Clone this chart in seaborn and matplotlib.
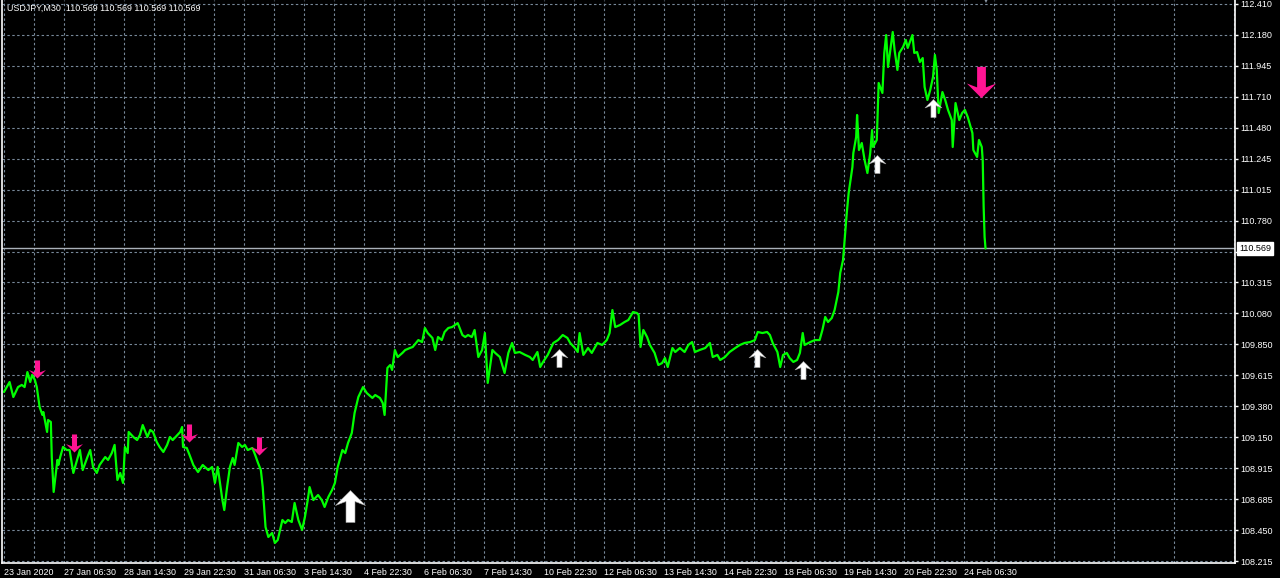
import numpy as np
import pandas as pd
import matplotlib
matplotlib.use("Agg")
import matplotlib.pyplot as plt
import seaborn as sns
from matplotlib.path import Path

# ---------------- data ----------------
symbol = "USDJPY,M30"
last_price = 110.569

bars = [0, 6, 10, 15, 19, 22, 25, 28, 30, 33, 35, 38, 41, 42, 46, 47, 50,
        51, 53, 57, 58, 60, 63, 67, 70, 74, 78, 81, 84, 89, 92, 95, 99, 102, 108, 111,
        115, 118, 121, 124, 127, 129, 132, 133, 138, 142, 145, 148, 153, 156, 159, 163,
        166, 170, 174, 177, 180, 185, 188, 190, 191, 195, 198, 202, 207,
        212, 218, 222, 225, 228, 233, 235, 238, 241, 244, 246, 250, 254, 257, 260, 265,
        268, 271, 274, 276, 279, 282, 286, 289, 292, 297, 300, 303, 307, 310, 314, 318,
        321, 324, 326, 330, 335, 339, 342, 346, 350, 353, 356, 361, 364, 367, 371, 374,
        378, 383, 387, 393, 396, 401, 404, 406, 409, 412,
        414, 417, 420, 425, 428, 433, 436, 442, 446, 449, 452, 457, 460, 463, 467, 470,
        474, 478, 481, 484, 489, 492, 495, 499, 502, 506, 510, 513, 516, 521, 524, 529,
        534, 538, 542, 545, 550, 556, 561, 564, 569, 572, 575, 580, 586, 591, 596, 601,
        604, 609, 612, 614, 618, 623, 627, 633, 638, 643, 646, 649, 652, 657, 662, 666,
        671, 675,
        677, 679, 682, 686, 689, 694, 698, 702, 705, 708, 713, 716, 721, 726, 730, 734,
        737, 742, 748, 753, 756, 761, 764, 769, 774, 780, 785, 790, 796, 801, 804, 809,
        814, 817, 820, 825, 828, 831, 835, 838, 842, 846, 849, 852, 854, 860, 865, 870,
        873, 876, 879, 883, 886, 890,
        892, 895, 897, 899, 901, 905, 906, 909, 910, 912, 915, 918, 921, 924, 926, 927,
        931, 933, 937, 939, 941, 943, 945, 948, 950, 953, 955, 959, 962, 964, 969, 971,
        974, 977, 980, 982, 985, 988, 991, 993, 995, 997, 1001, 1004, 1007, 1011, 1012,
        1015, 1019, 1022, 1025, 1028, 1033, 1034, 1038, 1040, 1043, 1044, 1045, 1046, 1047]

prices = [109.488, 109.563, 109.450, 109.525, 109.541, 109.525, 109.638, 109.563, 109.616,
          109.578, 109.525, 109.375, 109.315, 109.337, 109.187, 109.277, 109.262,
          108.998, 108.735, 108.976, 108.938, 108.998, 109.074, 109.051, 109.051, 108.878,
          108.976, 109.051, 108.900, 108.998, 109.051, 108.923, 108.878, 108.938, 108.998,
          108.976, 109.028, 109.089, 108.825, 108.878, 108.803, 109.074, 109.028, 109.187,
          109.149, 109.126, 109.164, 109.239, 109.149, 109.202, 109.187, 109.111, 109.074,
          109.036, 109.089, 109.149, 109.126, 109.164, 109.187, 109.224, 109.074, 109.066,
          109.013, 108.938, 108.885,
          108.938, 108.900, 108.923, 108.803, 108.923, 108.674, 108.599, 108.772, 108.923,
          108.991, 108.938, 109.104, 109.074, 109.089, 109.051, 109.066, 109.013, 108.953,
          108.900, 108.772, 108.471, 108.396, 108.426, 108.351, 108.373, 108.524, 108.501,
          108.524, 108.509, 108.652, 108.524, 108.449, 108.546, 108.674, 108.772, 108.674,
          108.712, 108.674, 108.622, 108.697, 108.750, 108.803, 108.923, 109.051, 109.028,
          109.104, 109.179, 109.330, 109.450, 109.525, 109.480, 109.443, 109.465, 109.443,
          109.405, 109.315, 109.669, 109.691,
          109.654, 109.804, 109.751, 109.782, 109.804, 109.819, 109.827, 109.879, 109.864,
          109.970, 109.932, 109.895, 109.804, 109.902, 109.879, 109.940, 109.970, 109.977,
          109.992, 110.007, 109.917, 109.902, 109.917, 109.902, 109.955, 109.751, 109.804,
          109.932, 109.556, 109.804, 109.782, 109.751, 109.631, 109.782, 109.857, 109.782,
          109.789, 109.767, 109.751, 109.729, 109.789, 109.676, 109.714, 109.767, 109.857,
          109.879, 109.917, 109.895, 109.857, 109.819, 109.789, 109.932, 109.767, 109.819,
          109.782, 109.857, 109.842, 109.879, 109.932, 110.105, 109.977, 109.992, 110.015,
          110.030, 110.090, 110.083,
          110.068, 109.827, 109.955, 109.902, 109.842, 109.782, 109.691, 109.706, 109.744,
          109.676, 109.819, 109.789, 109.819, 109.789, 109.842, 109.864, 109.789, 109.804,
          109.819, 109.857, 109.751, 109.767, 109.729, 109.751, 109.789, 109.819, 109.842,
          109.857, 109.864, 109.879, 109.940, 109.932, 109.940, 109.917, 109.857, 109.789,
          109.676, 109.767, 109.782, 109.744, 109.714, 109.729, 109.782, 109.932, 109.842,
          109.864, 109.879, 109.879, 109.955, 110.053, 110.015, 110.045, 110.105, 110.241,
          110.384, 110.482, 110.655, 110.836, 110.987, 111.182, 111.288, 111.408, 111.574,
          111.310, 111.363, 111.235, 111.137, 111.288, 111.461, 111.333, 111.386, 111.815,
          111.740, 112.041, 112.176, 111.935, 112.041, 112.199, 112.063, 111.913, 112.041,
          112.086, 112.139, 112.079, 112.176, 112.041, 112.048, 111.973, 112.003, 111.785,
          111.687, 111.762, 111.860, 112.026, 111.913, 111.589, 111.747, 111.687, 111.612,
          111.536, 111.333, 111.664, 111.536, 111.589, 111.612, 111.559, 111.438, 111.310,
          111.258, 111.386, 111.333, 111.235, 110.881, 110.655, 110.569]

x_tick_labels = ["23 Jan 2020", "27 Jan 06:30", "28 Jan 14:30", "29 Jan 22:30",
                 "31 Jan 06:30", "3 Feb 14:30", "4 Feb 22:30", "6 Feb 06:30",
                 "7 Feb 14:30", "10 Feb 22:30", "12 Feb 06:30", "13 Feb 14:30",
                 "14 Feb 22:30", "18 Feb 06:30", "19 Feb 14:30", "20 Feb 22:30",
                 "24 Feb 06:30"]
# the level under the current-price box is hidden in the terminal
y_tick_labels = ["108.215", "108.450", "108.685", "108.915", "109.150", "109.380",
                 "109.615", "109.850", "110.080", "110.315", "", "110.780",
                 "111.015", "111.245", "111.480", "111.710", "111.945", "112.180",
                 "112.410"]
y_tick_values = np.linspace(108.215, 112.410, 19)

sell_bars = [35, 75, 197, 272]
sell_prices = [109.661, 109.104, 109.179, 109.081]
strong_sell_bars = [1042]
strong_sell_prices = [111.822]
buy_bars = [592, 803, 852, 931, 991]
buy_prices = [109.744, 109.744, 109.653, 111.205, 111.627]
strong_buy_bars = [369]
strong_buy_prices = [108.629]

# ---------------- style ----------------
sns.set_style("dark", {"axes.facecolor": "black", "figure.facecolor": "black"})
plt.rcParams["font.family"] = ["Liberation Sans", "DejaVu Sans"]

FG = "white"
GRID = "#778899"
GREEN = "#00ff00"
PINK = "#ff1493"

fig = plt.figure(figsize=(12.8, 5.78), dpi=100, facecolor="black")
ax = fig.add_axes([2 / 1280, 15 / 578, 1233 / 1280, 563 / 578])
ax.set_facecolor("black")

df = pd.DataFrame({"bar": bars, "price": prices})
sns.lineplot(data=df, x="bar", y="price", color=GREEN, linewidth=1.6,
             estimator=None, sort=False, ax=ax, zorder=3)

# current bid line
ax.axhline(last_price, color="#a9b0b8", linewidth=1.0, zorder=2)

# arrow markers (wide chevron head, narrower shaft)
up_verts = [(0, 16), (15, 1), (4.5, 5), (4.5, -16), (-4.5, -16), (-4.5, 5), (-15, 1), (0, 16)]
codes = [Path.MOVETO] + [Path.LINETO] * 6 + [Path.CLOSEPOLY]
up_arrow = Path(up_verts, codes)
down_arrow = Path([(x, -y) for x, y in up_verts], codes)

ax.plot(sell_bars, sell_prices, linestyle="none", marker=down_arrow, markersize=13,
        color=PINK, markeredgewidth=0, zorder=5)
ax.plot(strong_sell_bars, strong_sell_prices, linestyle="none", marker=down_arrow,
        markersize=22.5, color=PINK, markeredgewidth=0, zorder=5)
ax.plot(buy_bars, buy_prices, linestyle="none", marker=up_arrow, markersize=13,
        color="white", markeredgecolor="#a0a0a0", markeredgewidth=0.4, zorder=5)
ax.plot(strong_buy_bars, strong_buy_prices, linestyle="none", marker=up_arrow,
        markersize=23, color="white", markeredgecolor="#a0a0a0", markeredgewidth=0.4,
        zorder=5)

# axes limits
ax.set_xlim(-2.1, 1313.1)
ax.set_ylim(108.200, 112.440)

# ticks
ax.set_yticks(y_tick_values)
ax.set_yticklabels(y_tick_labels)
ax.yaxis.tick_right()
x_ticks = np.arange(len(x_tick_labels)) * 64
ax.set_xticks(x_ticks)
ax.set_xticklabels(x_tick_labels, ha="left")
ax.set_xticks(np.arange(32, 1313, 64), minor=True)

ax.tick_params(axis="x", which="major", colors=FG, labelcolor=FG, length=3, width=1,
               pad=0.5, labelsize=6.4, direction="out")
ax.tick_params(axis="x", which="minor", length=0)
ax.tick_params(axis="y", colors=FG, labelcolor=FG, length=2.5, width=1, pad=1.5,
               labelsize=6.5, direction="out")
for lbl in ax.get_xticklabels():
    lbl.set_horizontalalignment("left")

ax.grid(True, which="both", color=GRID, linestyle=(0, (2.2, 2.2)), linewidth=0.8)
ax.set_axisbelow(True)
ax.set_xlabel("")
ax.set_ylabel("")

for side in ["left", "bottom", "right"]:
    ax.spines[side].set_visible(True)
    ax.spines[side].set_color(FG)
    ax.spines[side].set_linewidth(1.2)
ax.spines["top"].set_visible(False)

# header text
ax.text(0.004, 0.986,
        f"{symbol}  {last_price:.3f} {last_price:.3f} {last_price:.3f} {last_price:.3f}",
        transform=ax.transAxes, color=FG, fontsize=6.4, ha="left", va="center", zorder=6)

# current price box
ax.annotate(f"{last_price:.3f}", xy=(1, last_price), xycoords=("axes fraction", "data"),
            xytext=(3.0, 0), textcoords="offset points", ha="left", va="center",
            fontsize=6.5, color="black", annotation_clip=False, zorder=10,
            bbox=dict(boxstyle="square,pad=0.2", fc="white", ec="white"))

# chart shift marker at top
ax.plot([bars[-1]], [1.0], marker="v", markersize=5, color="#8a96a3",
        transform=ax.get_xaxis_transform(), clip_on=False, zorder=6,
        markeredgewidth=0)

fig.savefig("out.png", dpi=100, facecolor="black")
